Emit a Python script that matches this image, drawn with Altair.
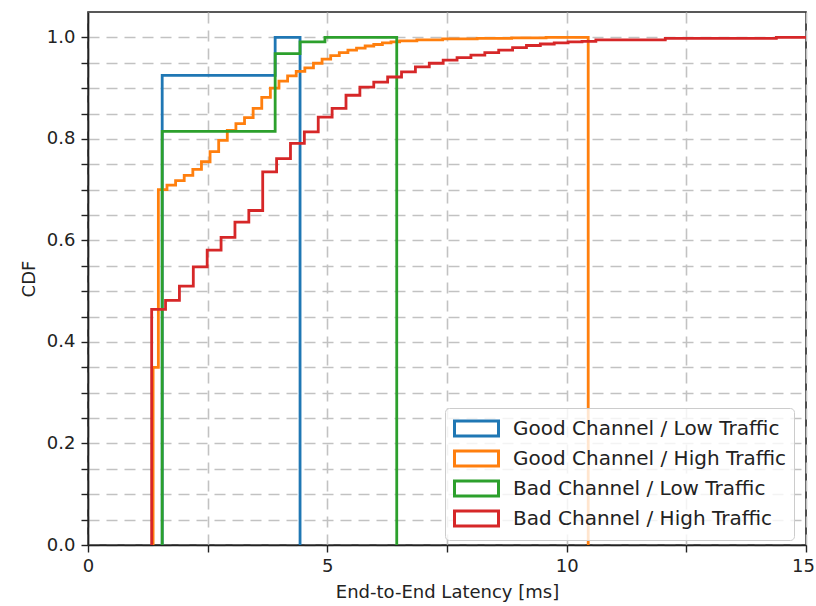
import altair as alt
import pandas as pd

SERIES = [
    "Good Channel / Low Traffic",
    "Good Channel / High Traffic",
    "Bad Channel / Low Traffic",
    "Bad Channel / High Traffic",
]
COLORS = ["#1f77b4", "#ff7f0e", "#2ca02c", "#d62728"]

# Cumulative step histograms: bin edges (left edges plus the final right edge)
# and the cumulative fraction reached in each bin.
good_low_edges = [1.55, 3.91, 4.43]
good_low_cdf = [0.925, 1.0]

good_high_edges = [1.36, 1.47, 1.65, 1.83, 2.01, 2.19, 2.37, 2.55, 2.73, 2.91,
                   3.09, 3.27, 3.45, 3.63, 3.81, 3.99, 4.17, 4.35, 4.53, 4.71,
                   4.89, 5.07, 5.25, 5.43, 5.61, 5.79, 5.97, 6.15, 6.33, 6.51,
                   6.87, 7.41, 8.13, 8.85, 9.57, 10.45]
good_high_cdf = [0.350, 0.700, 0.709, 0.718, 0.728, 0.740, 0.755, 0.775, 0.797,
                 0.817, 0.830, 0.842, 0.860, 0.882, 0.900, 0.914, 0.924, 0.933,
                 0.940, 0.949, 0.957, 0.964, 0.970, 0.975, 0.979, 0.983, 0.986,
                 0.989, 0.991, 0.993, 0.995, 0.997, 0.998, 0.999, 1.000]

bad_low_edges = [1.55, 3.91, 4.43, 4.95, 6.45]
bad_low_cdf = [0.815, 0.968, 0.991, 1.0]

bad_high_edges = [1.33, 1.62, 1.91, 2.20, 2.49, 2.78, 3.07, 3.36, 3.65, 3.94,
                  4.23, 4.52, 4.81, 5.10, 5.39, 5.68, 5.97, 6.26, 6.55, 6.84,
                  7.13, 7.42, 7.71, 8.00, 8.29, 8.58, 8.87, 9.16, 9.45, 9.74,
                  10.03, 10.32, 10.61, 12.06, 14.38, 15.60]
bad_high_cdf = [0.464, 0.482, 0.510, 0.548, 0.581, 0.606, 0.636, 0.659, 0.735,
                0.761, 0.791, 0.814, 0.843, 0.860, 0.886, 0.902, 0.912, 0.922,
                0.932, 0.942, 0.949, 0.955, 0.960, 0.965, 0.970, 0.975, 0.980,
                0.984, 0.987, 0.989, 0.991, 0.992, 0.995, 0.998, 1.000]

x_ticks = [0, 2.5, 5, 7.5, 10, 12.5, 15]
y_ticks = [0.0, 0.05, 0.1, 0.15, 0.2, 0.25, 0.3, 0.35, 0.4, 0.45, 0.5,
           0.55, 0.6, 0.65, 0.7, 0.75, 0.8, 0.85, 0.9, 0.95, 1.0]


def outline(edges, cdf):
    """Vertices of an unfilled step-histogram outline."""
    xs, ys = [edges[0]], [0.0]
    for i, v in enumerate(cdf):
        xs += [edges[i], edges[i + 1]]
        ys += [v, v]
    xs.append(edges[-1])
    ys.append(0.0)
    return xs, ys


rows = []
for name, edges, cdf in zip(
    SERIES,
    [good_low_edges, good_high_edges, bad_low_edges, bad_high_edges],
    [good_low_cdf, good_high_cdf, bad_low_cdf, bad_high_cdf],
):
    xs, ys = outline(edges, cdf)
    for k, (x, y) in enumerate(zip(xs, ys)):
        rows.append({"series": name, "idx": k, "latency": x, "cdf": y})
df = pd.DataFrame(rows)

FONT = "DejaVu Sans"
TEXT = "#222222"
GRID = dict(grid=True, gridDash=[11, 7], gridColor="#c2c2c2", gridWidth=1.6)

x_enc = alt.X(
    "latency:Q",
    scale=alt.Scale(domain=[0, 15], nice=False, zero=False),
    axis=alt.Axis(
        values=x_ticks,
        labelExpr="datum.value % 5 === 0 ? format(datum.value, 'd') : ''",
        title="End-to-End Latency [ms]",
        labelFlush=False,
        labelOffset=alt.condition("datum.value === 15", alt.value(-3), alt.value(0)),
        tickSize=7, labelPadding=5, titlePadding=8,
        **GRID,
    ),
)
y_enc = alt.Y(
    "cdf:Q",
    scale=alt.Scale(domain=[0, 1.05], nice=False, zero=False),
    axis=alt.Axis(
        values=y_ticks,
        labelExpr="abs(datum.value * 5 - round(datum.value * 5)) < 0.001 ? format(datum.value, '.1f') : ''",
        title="CDF",
        labelFlush=False,
        tickSize=7, labelPadding=6, titlePadding=8,
        **GRID,
    ),
)
# Wide rectangular legend patches: the path reaches three units to the right of
# the symbol centre, so the label offset makes room for the extra width.
color_enc = alt.Color(
    "series:N",
    scale=alt.Scale(domain=SERIES, range=COLORS),
    legend=alt.Legend(
        title=None,
        orient="none",
        legendX=357,
        legendY=396,
        symbolType="M-1,-0.68H3V0.68H-1Z",
        symbolSize=484,
        symbolStrokeWidth=3,
        symbolFillColor="white",
        labelFontSize=20,
        labelFont=FONT,
        labelColor=TEXT,
        labelOffset=35,
        labelLimit=400,
        rowPadding=3,
        padding=8,
        fillColor="rgba(255,255,255,0.8)",
        strokeColor="#cccccc",
        cornerRadius=4,
    ),
)

layers = [
    alt.Chart(df)
    .transform_filter(alt.datum.series == name)
    .mark_line(strokeWidth=2.8, strokeJoin="miter", clip=True)
    .encode(x=x_enc, y=y_enc, color=color_enc, order="idx:Q")
    for name in SERIES
]

chart = (
    alt.layer(*layers)
    .properties(
        width=718,
        height=533,
        autosize=alt.AutoSizeParams(type="none"),
        padding={"left": 88, "top": 12, "right": 10, "bottom": 61},
        background="white",
    )
    .configure_view(stroke="#222222", strokeWidth=1.6)
    .configure_axis(
        labelFont=FONT, titleFont=FONT,
        labelFontSize=18, titleFontSize=18,
        labelColor=TEXT, titleColor=TEXT,
        titleFontWeight="normal",
        domainColor="#222222", domainWidth=1.6,
        tickColor="#222222", tickWidth=1.4,
    )
)

chart.save("out.html", embed_options={"renderer": "svg", "actions": False})
